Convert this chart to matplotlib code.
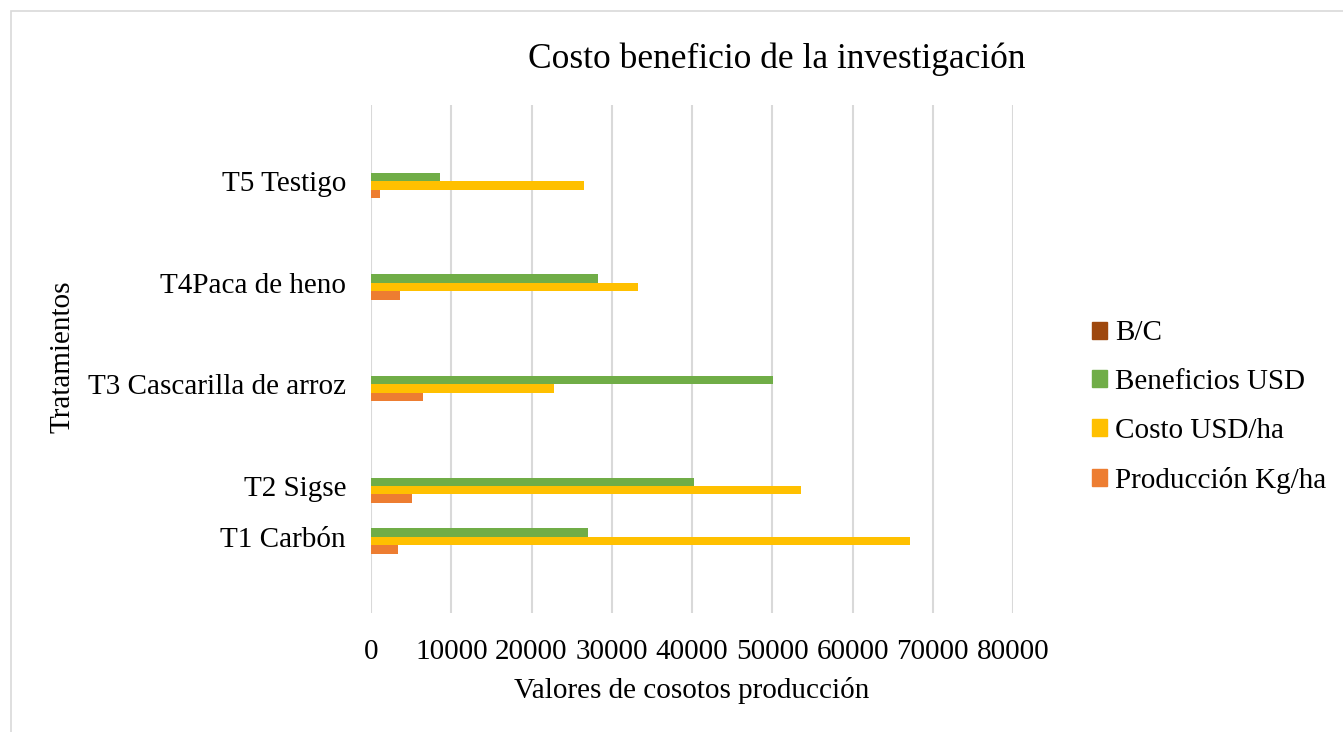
import numpy as np
import matplotlib
matplotlib.use("Agg")
import matplotlib.pyplot as plt
from matplotlib.patches import Rectangle, Patch

plt.rcParams['font.family'] = ['Liberation Serif', 'DejaVu Serif']

# data
tratamientos = ['T1 Carbón', 'T2 Sigse', 'T3 Cascarilla de arroz', 'T4Paca de heno', 'T5 Testigo']
y_pos = [0.0, 0.5, 1.5, 2.5, 3.5]
produccion = [3400, 5150, 6440, 3610, 1080]
costo = [67160, 53580, 22840, 33270, 26500]
beneficios = [27000, 40250, 50130, 28330, 8640]
b_c = [0.40, 0.75, 2.19, 0.85, 0.33]

series = ['Producción Kg/ha', 'Costo USD/ha', 'Beneficios USD', 'B/C']
colors = ['#ED7D31', '#FFC000', '#70AD47', '#9E480E']

fig = plt.figure(figsize=(13.43, 7.32), dpi=100)
ax = fig.add_axes([371/1343, 1-613/732, 642/1343, 508/732])

h = 0.0836
y = np.array(y_pos)
for i, vals in enumerate([produccion, costo, beneficios, b_c]):
    ax.barh(y + (i - 1.5) * h, vals, height=h, color=colors[i], label=series[i])

ax.set_xlim(0, 80000)
ax.set_ylim(-0.75, 4.25)
ax.set_xticks(np.arange(0, 80001, 10000))
ax.set_yticks(y_pos)
ax.set_yticklabels(tratamientos)
ax.grid(axis='x', color='#D9D9D9', lw=1.5)
ax.set_axisbelow(True)
for s in ax.spines.values():
    s.set_visible(False)
ax.tick_params(axis='both', length=0, labelsize=21)
ax.tick_params(axis='x', pad=19)
ax.tick_params(axis='y', pad=18)

fig.text(777/1343, 1-67.7/732, 'Costo beneficio de la investigación',
         ha='center', va='baseline', fontsize=25.5)
fig.text(692/1343, 1-691/732, 'Valores de cosotos producción',
         ha='center', va='center', fontsize=21)
fig.text(62/1343, 1-357/732, 'Tratamientos', rotation=90,
         ha='center', va='center', fontsize=21)

# legend listed top to bottom as in the original
handles = [Patch(color=colors[i]) for i in [3, 2, 1, 0]]
labels = [series[i] for i in [3, 2, 1, 0]]
fig.legend(handles, labels, loc='center left', bbox_to_anchor=(1066/1343, 1-407/732),
           frameon=False, fontsize=21, handlelength=0.52, handleheight=0.52,
           handletextpad=0.25, labelspacing=0.78)

fig.add_artist(Rectangle((11/1343, -0.1), 1.2, 1.1 - 11/732, transform=fig.transFigure,
                         fill=False, edgecolor='#D9D9D9', lw=1.2))

fig.savefig('out.png', dpi=100)
